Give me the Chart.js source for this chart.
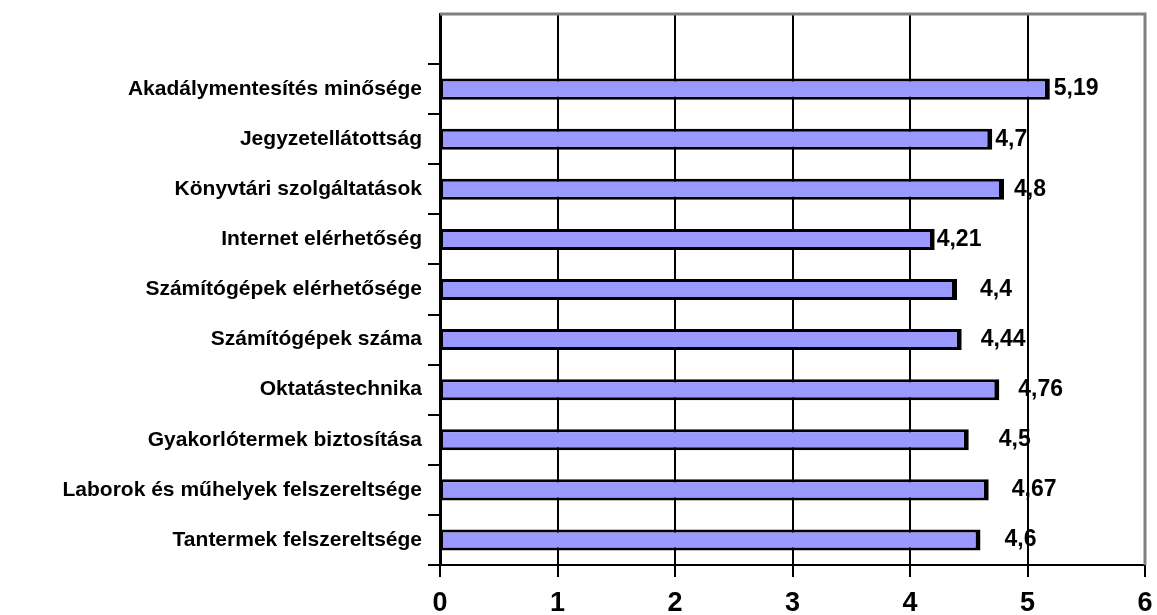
<!DOCTYPE html>
<html>
<head>
<meta charset="utf-8">
<script src="https://cdn.jsdelivr.net/npm/chart.js@4"></script>
<style>
  body { margin: 0; background: #fff; }
</style>
</head>
<body>
<canvas id="barChart" width="1157" height="615"></canvas>
<script>
// Kategóriák (felülről lefelé) és az átlagértékek
const kategoriak = [
    'Akadálymentesítés minősége', 'Jegyzetellátottság', 'Könyvtári szolgáltatások',
    'Internet elérhetőség', 'Számítógépek elérhetősége', 'Számítógépek száma',
    'Oktatástechnika', 'Gyakorlótermek biztosítása', 'Laborok és műhelyek felszereltsége',
    'Tantermek felszereltsége'
];
const ertekek = [5.19, 4.7, 4.8, 4.21, 4.4, 4.44, 4.76, 4.5, 4.67, 4.6];
const xTicks = [0, 1, 2, 3, 4, 5, 6];

// az ábra tetején egy üres sor van
const labels = [''].concat(kategoriak);
const values = [null].concat(ertekek);

// címkék távolsága az oszlop végétől (px), ahogy az eredetin elcsúsztak
const cimkeTav = [0, 4, 3, 10, 2, 23, 19, 19, 30, 23, 24];

const fontFamily = '"Liberation Sans", Arial, sans-serif';

const ertekCimkek = {
    id: 'ertekCimkek',
    afterDatasetsDraw(chart) {
        const ctx = chart.ctx;
        const meta = chart.getDatasetMeta(0);
        ctx.save();
        ctx.font = 'bold 23px ' + fontFamily;
        ctx.fillStyle = '#000';
        ctx.textAlign = 'left';
        ctx.textBaseline = 'middle';
        meta.data.forEach(function(bar, i) {
            const v = values[i];
            if (v === null) return;
            ctx.fillText(String(v).replace('.', ','), bar.x + cimkeTav[i], bar.y);
        });
        ctx.restore();
    }
};

// szürke keret felül és jobb oldalon
const keret = {
    id: 'keret',
    afterDatasetsDraw(chart) {
        const a = chart.chartArea;
        const ctx = chart.ctx;
        ctx.save();
        ctx.strokeStyle = '#808080';
        ctx.lineWidth = 3;
        ctx.beginPath();
        ctx.moveTo(a.left, a.top);
        ctx.lineTo(a.right, a.top);
        ctx.lineTo(a.right, a.bottom);
        ctx.stroke();
        ctx.restore();
    }
};

const config = {
    type: 'bar',
    data: {
        labels: labels,
        datasets: [{
            data: values,
            backgroundColor: '#9999FF',
            borderColor: '#000',
            borderWidth: { top: 3, bottom: 3, left: 2, right: 5 },
            borderSkipped: false,
            categoryPercentage: 1,
            barPercentage: 0.42
        }]
    },
    options: {
        indexAxis: 'y',
        responsive: false,
        animation: false,
        layout: { padding: { top: 14, right: 12, left: 0, bottom: 0 } },
        plugins: {
            legend: { display: false },
            tooltip: { enabled: false }
        },
        scales: {
            x: {
                min: 0,
                max: 6,
                afterBuildTicks: function(scale) {
                    scale.ticks = xTicks.map(function(v) { return { value: v }; });
                },
                afterFit: function(scale) {
                    scale.height = 50;
                    scale.paddingLeft = 0;
                    scale.paddingRight = 0;
                },
                grid: {
                    color: function(c) { return c.tick && c.tick.value === 6 ? '#808080' : '#000'; },
                    tickColor: '#000',
                    lineWidth: 2,
                    tickLength: 12
                },
                border: { color: '#000', width: 2 },
                ticks: {
                    color: '#000',
                    padding: 10,
                    font: { family: fontFamily, size: 27, weight: 'bold' }
                }
            },
            y: {
                afterFit: function(scale) {
                    scale.width = 440;
                    scale.paddingTop = 0;
                    scale.paddingBottom = 0;
                },
                grid: {
                    drawOnChartArea: false,
                    offset: true,
                    tickColor: function(c) { return c.index === 0 ? 'rgba(0,0,0,0)' : '#000'; },
                    lineWidth: 2,
                    tickLength: 12
                },
                border: { color: '#000', width: 3 },
                ticks: {
                    color: '#000',
                    padding: 6,
                    font: { family: fontFamily, size: 21, weight: 'bold' }
                }
            }
        }
    },
    plugins: [keret, ertekCimkek]
};

const ctx = document.getElementById('barChart').getContext('2d');
new Chart(ctx, config);
</script>
</body>
</html>
